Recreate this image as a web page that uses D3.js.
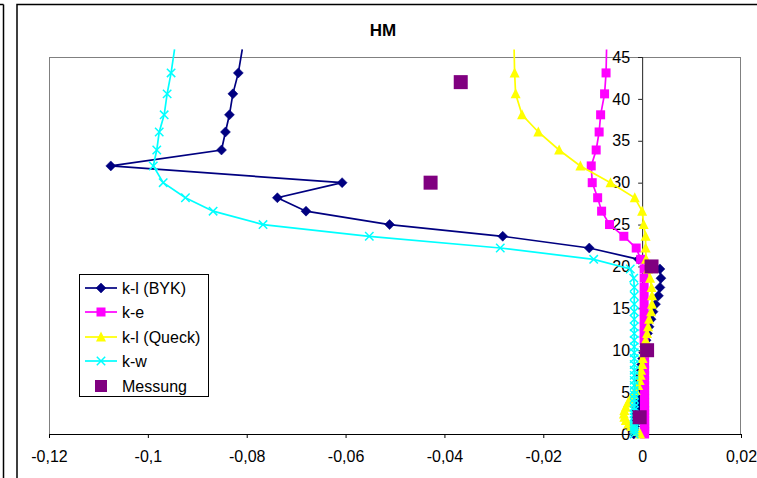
<!DOCTYPE html>
<html>
<head>
<meta charset="utf-8">
<script src="https://cdn.jsdelivr.net/npm/d3@7"></script>
<style>
  html, body { margin: 0; padding: 0; background: #fff; }
  svg { display: block; }
  text { font-family: "Liberation Sans", Arial, sans-serif; }
</style>
</head>
<body>
<svg id="chart" width="757" height="478"></svg>
<script>
// ---------- DATA ----------
const depths = [45.9, 43.1, 40.6, 38.1, 36.05, 33.9, 32.0, 30.0, 28.2, 26.6, 25.0, 23.6, 22.2, 20.85,
  19.7, 18.6, 17.5, 16.5, 15.5, 14.6, 13.7, 12.8, 12.0, 11.2, 10.4, 9.7, 9.0, 8.3, 7.6, 7.0,
  6.4, 5.8, 5.2, 4.7, 4.2, 3.7, 3.2, 2.8, 2.4, 2.0, 1.6, 1.2, 0.9, 0.6, 0.3, 0.0];

const klBYK = [-0.0809, -0.0817, -0.0828, -0.0835, -0.0843, -0.0851, -0.1075, -0.0607, -0.0738, -0.0680, -0.0511, -0.0282, -0.0107, -0.0007,
  0.0036, 0.0038, 0.0036, 0.0033, 0.0027, 0.0022, 0.0018, 0.0014, 0.0011, 0.0008, 0.0005, 0.0003, 0.0001, -0.0001, -0.0002, -0.0003,
  -0.0004, -0.0005, -0.0006, -0.0007, -0.0008, -0.0009, -0.0010, -0.0011, -0.0012, -0.0013, -0.0014, -0.0015, -0.0015, -0.0016, -0.0016, -0.0017];

const ke = [-0.0072, -0.0073, -0.0076, -0.0084, -0.0087, -0.0093, -0.0103, -0.0101, -0.0090, -0.0082, -0.0066, -0.0037, -0.0012, -0.0003,
  0.0004, 0.0004, 0.0004, 0.0004, 0.0004, 0.0004, 0.0004, 0.0004, 0.0004, 0.0004, 0.0005, 0.0005, 0.0005, 0.0005, 0.0005, 0.0005,
  0.0005, 0.0005, 0.0005, 0.0005, 0.0005, 0.0005, 0.0005, 0.0005, 0.0005, 0.0005, 0.0005, 0.0005, 0.0005, 0.0005, 0.0005, 0.0005];

const klQueck = [-0.0259, -0.0258, -0.0256, -0.0243, -0.0210, -0.0168, -0.0125, -0.0064, -0.0015, 0.0000, 0.0003, 0.0007, 0.0007, 0.0008,
  0.0012, 0.0016, 0.0019, 0.0020, 0.0020, 0.0018, 0.0014, 0.0012, 0.0010, 0.0007, 0.0005, 0.0003, 0.0001, 0.0000, -0.0002, -0.0003,
  -0.0005, -0.0008, -0.0013, -0.0018, -0.0024, -0.0029, -0.0033, -0.0036, -0.0037, -0.0036, -0.0033, -0.0028, -0.0022, -0.0016, -0.0010, -0.0004];

const kw = [-0.0946, -0.0953, -0.0961, -0.0967, -0.0977, -0.0982, -0.0989, -0.0969, -0.0924, -0.0868, -0.0767, -0.0552, -0.0287, -0.0098,
  -0.0024, -0.0017, -0.0016, -0.0016, -0.0016, -0.0016, -0.0016, -0.0016, -0.0016, -0.0016, -0.0016, -0.0016, -0.0016, -0.0016, -0.0016, -0.0016,
  -0.0016, -0.0016, -0.0016, -0.0016, -0.0016, -0.0016, -0.0016, -0.0016, -0.0016, -0.0016, -0.0016, -0.0016, -0.0016, -0.0016, -0.0016, -0.0016];

const messDepths = [42, 30, 20, 10, 2];
const messValues = [-0.0367, -0.0428, 0.0019, 0.0010, -0.0005];

const xTicks = [-0.12, -0.10, -0.08, -0.06, -0.04, -0.02, 0, 0.02];
const yTicks = [0, 5, 10, 15, 20, 25, 30, 35, 40, 45];

const seriesNames = ["k-l (BYK)", "k-e", "k-l (Queck)", "k-w", "Messung"];
const title = "HM";

// ---------- LAYOUT ----------
const svg = d3.select("#chart");
const L = 49, R = 741, T = 57, B = 434;

const x = d3.scaleLinear().domain([-0.12, 0.02]).range([L, R]);
const y = d3.scaleLinear().domain([0, 45]).range([B, T]);

const fmt = v => String(+v.toFixed(2)).replace(".", ",");

// outer frames
svg.append("line").attr("x1", 0).attr("x2", 3.5).attr("y1", 4.5).attr("y2", 4.5)
  .attr("stroke", "#000").attr("stroke-width", 1.5);
svg.append("line").attr("x1", 3.5).attr("x2", 3.5).attr("y1", 4.5).attr("y2", 478)
  .attr("stroke", "#000").attr("stroke-width", 1.5);
svg.append("rect").attr("x", 17).attr("y", 4.5).attr("width", 760).attr("height", 500)
  .attr("fill", "#fff").attr("stroke", "#000").attr("stroke-width", 1.5);

// plot area border (gray)
svg.append("rect").attr("x", L + 0.5).attr("y", T + 0.5).attr("width", R - L - 1).attr("height", B - T)
  .attr("fill", "none").attr("stroke", "#808080").attr("stroke-width", 1);

// title
svg.append("text").attr("x", 383).attr("y", 36).attr("text-anchor", "middle")
  .attr("font-size", 17).attr("font-weight", "bold").text(title);

// x axis
const xAxis = d3.axisBottom(x).tickValues(xTicks).tickFormat(fmt).tickSize(4).tickPadding(13);
const gx = svg.append("g").attr("transform", `translate(0,${B})`).call(xAxis);
gx.select(".domain").attr("stroke", "#000");
gx.selectAll(".tick line").attr("stroke", "#000");
gx.selectAll("text").attr("font-size", 16).attr("fill", "#000")
  .attr("font-family", "'Liberation Sans', Arial, sans-serif");

// y axis at x = 0
const yAxis = d3.axisLeft(y).tickValues(yTicks).tickFormat(d => String(d)).tickSize(4).tickPadding(8);
const gy = svg.append("g").attr("transform", `translate(${x(0)},0)`).call(yAxis);
gy.select(".domain").attr("stroke", "#222");
gy.selectAll(".tick line").attr("stroke", "#222");
gy.selectAll("text").attr("font-size", 16).attr("fill", "#000")
  .attr("font-family", "'Liberation Sans', Arial, sans-serif");

// ---------- SERIES ----------
const series = [
  { name: seriesNames[0], vals: klBYK,   color: "#000080", marker: "diamond" },
  { name: seriesNames[1], vals: ke,      color: "#FF00FF", marker: "square" },
  { name: seriesNames[2], vals: klQueck, color: "#FFFF00", marker: "triangle" },
  { name: seriesNames[3], vals: kw,      color: "#00FFFF", marker: "x" }
];

function drawMarker(g, type, cx, cy, color, size) {
  if (type === "diamond") {
    const r = 5;
    g.append("path").attr("d", `M${cx},${cy - r}L${cx + r},${cy}L${cx},${cy + r}L${cx - r},${cy}Z`)
      .attr("fill", color).attr("stroke", color).attr("stroke-width", 0.5);
  } else if (type === "square") {
    const s = size || 9;
    g.append("rect").attr("x", cx - s / 2).attr("y", cy - s / 2).attr("width", s).attr("height", s)
      .attr("fill", color);
  } else if (type === "triangle") {
    const w = 10, h = 9;
    g.append("path").attr("d", `M${cx},${cy - h / 2 - 1}L${cx + w / 2},${cy + h / 2}L${cx - w / 2},${cy + h / 2}Z`)
      .attr("fill", color);
  } else if (type === "x") {
    const r = 4.2;
    g.append("path").attr("d", `M${cx - r},${cy - r}L${cx + r},${cy + r}M${cx - r},${cy + r}L${cx + r},${cy - r}`)
      .attr("stroke", color).attr("stroke-width", 1.5).attr("fill", "none");
  }
}

const line = d3.line().x(d => x(d[0])).y(d => y(d[1]));

series.forEach(s => {
  const pts = s.vals.map((v, i) => [v, depths[i]]);
  const g = svg.append("g");
  g.append("path").attr("d", line(pts)).attr("fill", "none")
    .attr("stroke", s.color).attr("stroke-width", 1.7);
  pts.filter(p => p[1] <= 45).forEach(p => drawMarker(g, s.marker, x(p[0]), y(p[1]), s.color));
});

// Messung
const gm = svg.append("g");
messValues.forEach((v, i) => drawMarker(gm, "square", x(v), y(messDepths[i]), "#800080", 14));

// ---------- LEGEND ----------
const lg = svg.append("g");
lg.append("rect").attr("x", 79.5).attr("y", 274.5).attr("width", 129).attr("height", 122)
  .attr("fill", "#fff").attr("stroke", "#000").attr("stroke-width", 1);
const legY = [288, 312, 337, 361, 386];
series.forEach((s, i) => {
  lg.append("line").attr("x1", 85).attr("x2", 117).attr("y1", legY[i]).attr("y2", legY[i])
    .attr("stroke", s.color).attr("stroke-width", 1.7);
  drawMarker(lg, s.marker, 101, legY[i], s.color);
  lg.append("text").attr("x", 122).attr("y", legY[i] + 5.5).attr("font-size", 16).text(s.name);
});
drawMarker(lg, "square", 101, legY[4], "#800080", 12);
lg.append("text").attr("x", 122).attr("y", legY[4] + 5.5).attr("font-size", 16).text(seriesNames[4]);
</script>
</body>
</html>
